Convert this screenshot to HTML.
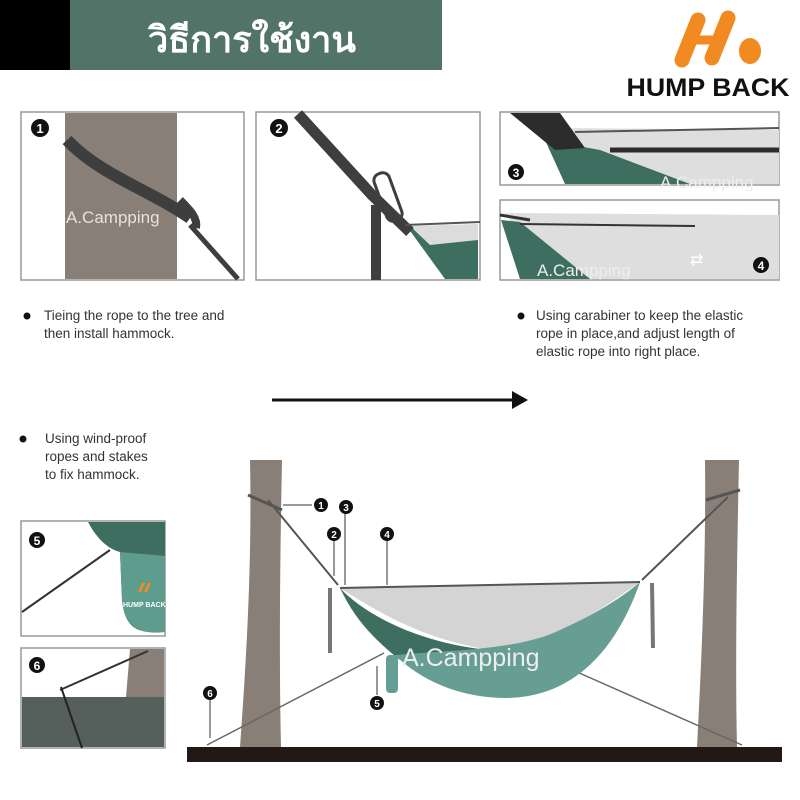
<!DOCTYPE html>
<html><head><meta charset="utf-8"><style>
html,body{margin:0;padding:0;background:#fff;}
svg{display:block;}
text{font-family:"Liberation Sans",sans-serif;}
</style></head><body>
<svg width="800" height="800" viewBox="0 0 800 800" xmlns="http://www.w3.org/2000/svg">
<!-- header -->
<rect x="0" y="0" width="70" height="70" fill="#000"/>
<rect x="70" y="0" width="372" height="70" fill="#527468"/>
<text x="252" y="52" font-family="Liberation Sans, Noto Sans CJK SC, sans-serif" font-size="36" font-weight="bold" fill="#fff" text-anchor="middle">วิธีการใช้งาน</text>
<!-- logo -->
<g stroke="#f18a21" stroke-width="15" stroke-linecap="round" fill="none">
<path d="M698 20 L682 60"/>
<path d="M728 18 L712 58"/>
<path d="M690 40 L714 40" stroke-width="9"/>
</g>
<ellipse cx="750" cy="51" rx="11" ry="13" fill="#f18a21"/>
<text x="708" y="96" font-size="25" font-weight="bold" fill="#111" text-anchor="middle" textLength="163" lengthAdjust="spacingAndGlyphs">HUMP BACK</text>

<!-- panel 1 -->
<rect x="21" y="112" width="223" height="168" fill="#fff" stroke="#999" stroke-width="1.5"/>
<rect x="65" y="113" width="112" height="166" fill="#8a7f76"/>
<path d="M67 140 C100 175 150 190 190 218" stroke="#3e3e3e" stroke-width="12" fill="none"/>
<path d="M180 200 C190 210 198 218 196 228" stroke="#3e3e3e" stroke-width="8" fill="none"/>
<path d="M190 225 L238 279" stroke="#3e3e3e" stroke-width="5" fill="none"/>
<circle cx="40" cy="128" r="9" fill="#111"/><text x="40" y="133" font-size="13" font-weight="bold" fill="#fff" text-anchor="middle">1</text>
<text x="66" y="223" font-size="17" fill="#eee" opacity="0.9">A.Campping</text>
<!-- panel 2 -->
<rect x="256" y="112" width="224" height="168" fill="#fff" stroke="#999" stroke-width="1.5"/>
<path d="M408 228 L478 225 L478 279 L445 279 Z" fill="#3d6e5f"/>
<path d="M410 226 L478 224 L478 240 L430 245 Z" fill="#dcdcdc"/>
<path d="M298 114 L372 195 L410 232" stroke="#3e3e3e" stroke-width="11" fill="none"/>
<path d="M376 205 L376 280" stroke="#3e3e3e" stroke-width="10" fill="none"/>
<rect x="380" y="172" width="16" height="50" rx="7" fill="none" stroke="#3e3e3e" stroke-width="3" transform="rotate(-20 388 197)"/>
<path d="M405 225 L480 222" stroke="#555" stroke-width="2"/>
<circle cx="279" cy="128" r="9" fill="#111"/><text x="279" y="133" font-size="13" font-weight="bold" fill="#fff" text-anchor="middle">2</text>
<!-- panel 3 -->
<rect x="500" y="112" width="279" height="73" fill="#fff" stroke="#999" stroke-width="1.5"/>
<path d="M560 128 L779 130 L779 184 L570 184 Z" fill="#dedede"/>
<path d="M545 140 L600 150 L690 184 L565 184 Z" fill="#3d6e5f"/>
<path d="M510 113 L560 113 L585 148 L555 150 Z" fill="#2c2c2c"/>
<path d="M610 150 L779 150" stroke="#2c2c2c" stroke-width="5"/>
<path d="M575 132 L779 128" stroke="#555" stroke-width="2"/>
<circle cx="516" cy="172" r="8" fill="#111"/><text x="516" y="177" font-size="12" font-weight="bold" fill="#fff" text-anchor="middle">3</text>
<text x="660" y="188" font-size="17" fill="#eee">A.Campping</text>
<!-- panel 4 -->
<rect x="500" y="200" width="279" height="80" fill="#fff" stroke="#999" stroke-width="1.5"/>
<path d="M505 213 L779 215 L779 279 L550 279 Z" fill="#dedede"/>
<path d="M501 220 L520 222 L590 279 L520 279 Z" fill="#3d6e5f"/>
<path d="M520 224 L695 226" stroke="#333" stroke-width="2" fill="none"/>
<path d="M500 215 L530 220" stroke="#333" stroke-width="3"/>
<text x="690" y="265" font-size="16" fill="#fff">⇄</text>
<circle cx="761" cy="265" r="8" fill="#111"/><text x="761" y="270" font-size="12" font-weight="bold" fill="#fff" text-anchor="middle">4</text>
<text x="537" y="276" font-size="17" fill="#eee">A.Campping</text>

<!-- bullet texts -->
<g font-size="13.5" fill="#333">
<circle cx="27" cy="316" r="3.5" fill="#111"/>
<text x="44" y="320">Tieing the rope to the tree and</text>
<text x="44" y="338">then install hammock.</text>
<circle cx="521" cy="316" r="3.5" fill="#111"/>
<text x="536" y="320">Using carabiner to keep the elastic</text>
<text x="536" y="338">rope in place,and adjust length of</text>
<text x="536" y="356">elastic rope into right place.</text>
<circle cx="23" cy="439" r="3.5" fill="#111"/>
<text x="45" y="443">Using wind-proof</text>
<text x="45" y="461">ropes and stakes</text>
<text x="45" y="479">to fix hammock.</text>
</g>
<!-- arrow -->
<line x1="272" y1="400" x2="518" y2="400" stroke="#111" stroke-width="3"/>
<path d="M512 391 L528 400 L512 409 Z" fill="#111"/>

<!-- panel 5 -->
<rect x="21" y="521" width="144" height="115" fill="#fff" stroke="#999" stroke-width="1.5"/>
<path d="M88 522 L165 522 L165 630 C140 635 125 630 122 600 L120 552 C105 548 95 535 88 522 Z" fill="#3d6e5f"/>
<path d="M120 552 L165 556 L165 632 C140 635 125 628 122 600 Z" fill="#5e9c8e"/>
<path d="M22 612 L110 550" stroke="#333" stroke-width="2"/>
<text x="123" y="607" font-size="7" font-weight="bold" fill="#fff">HUMP BACK</text>
<path d="M138 592 l4 -9 l3 0 l-4 9 Z M144 592 l4 -9 l3 0 l-4 9 Z" fill="#f18a21"/>
<circle cx="37" cy="540" r="8" fill="#111"/><text x="37" y="545" font-size="12" font-weight="bold" fill="#fff" text-anchor="middle">5</text>
<!-- panel 6 -->
<rect x="21" y="648" width="144" height="100" fill="#fff" stroke="#999" stroke-width="1.5"/>
<path d="M130 649 L164 649 L164 697 L126 697 Z" fill="#8a7f76"/>
<rect x="22" y="697" width="142" height="50" fill="#55605d"/>
<path d="M60 690 L148 651" stroke="#333" stroke-width="2"/>
<path d="M61 687 L82 748" stroke="#222" stroke-width="2"/>
<circle cx="37" cy="665" r="8" fill="#111"/><text x="37" y="670" font-size="12" font-weight="bold" fill="#fff" text-anchor="middle">6</text>

<!-- main scene -->
<path d="M250 460 L282 460 C280 560 279 660 281 747 L240 747 C247 650 252 560 250 460 Z" fill="#8a7f76"/>
<path d="M705 460 L739 460 C737 560 735 660 737 747 L697 747 C702 650 706 560 705 460 Z" fill="#8a7f76"/>
<rect x="187" y="747" width="595" height="15" fill="#231815"/>
<!-- ropes -->
<path d="M248 495 L282 510" stroke="#555" stroke-width="3" fill="none"/>
<path d="M268 500 L338 585" stroke="#555" stroke-width="2" fill="none"/>
<path d="M706 500 L740 490" stroke="#555" stroke-width="3" fill="none"/>
<path d="M728 497 L642 580" stroke="#555" stroke-width="2" fill="none"/>
<path d="M207 745 L384 653" stroke="#666" stroke-width="1.5"/>
<path d="M568 668 L742 745" stroke="#666" stroke-width="1.5"/>
<path d="M330 588 L330 653 M652 583 L653 648" stroke="#777" stroke-width="4"/>
<!-- hammock -->
<path d="M340 588 L640 582 C600 610 560 640 490 650 C430 640 390 620 340 588 Z" fill="#d4d4d4"/>
<path d="M340 588 C370 620 430 645 490 650 L400 660 C375 640 355 620 340 588 Z" fill="#3d6e5f"/>
<path d="M640 582 C620 640 580 698 505 698 C460 698 420 680 395 655 C450 650 520 650 560 630 C600 612 625 595 640 582 Z" fill="#669e93"/>
<path d="M340 588 L640 582" stroke="#555" stroke-width="2"/>
<rect x="386" y="655" width="12" height="38" rx="4" fill="#669e93"/>
<text x="402" y="666" font-size="25" fill="#eee">A.Campping</text>
<!-- callouts -->
<g stroke="#333" stroke-width="1" fill="none">
<path d="M283 505 L312 505"/><path d="M334 540 L334 576"/><path d="M345 512 L345 585"/><path d="M387 540 L387 585"/><path d="M377 666 L377 695"/><path d="M210 700 L210 738"/>
</g>
<g font-size="10" font-weight="bold" fill="#fff" text-anchor="middle">
<circle cx="321" cy="505" r="7" fill="#111"/><text x="321" y="509">1</text>
<circle cx="334" cy="534" r="7" fill="#111"/><text x="334" y="538">2</text>
<circle cx="346" cy="507" r="7" fill="#111"/><text x="346" y="511">3</text>
<circle cx="387" cy="534" r="7" fill="#111"/><text x="387" y="538">4</text>
<circle cx="377" cy="703" r="7" fill="#111"/><text x="377" y="707">5</text>
<circle cx="210" cy="693" r="7" fill="#111"/><text x="210" y="697">6</text>
</g>
</svg>
</body></html>
